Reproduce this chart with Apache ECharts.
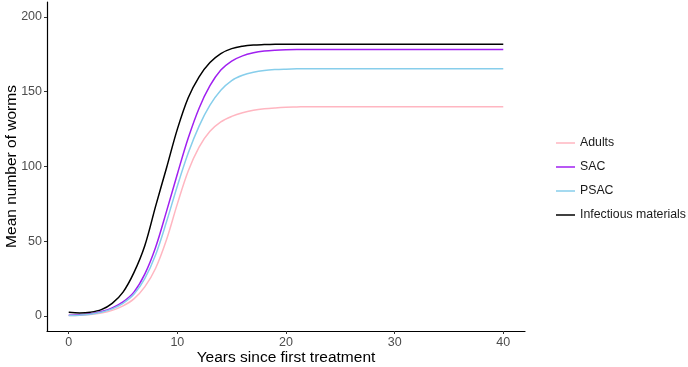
<!DOCTYPE html>
<html>
<head>
<meta charset="utf-8">
<title>Mean number of worms</title>
<script src="https://cdn.jsdelivr.net/npm/echarts@6/dist/echarts.min.js"></script>
<style>
html, body { margin: 0; padding: 0; background: #fff; }
#main { width: 688px; height: 367px; }
</style>
</head>
<body>
<div id="main"></div>
<script>
// years since first treatment
var years = [0, 1, 2, 3, 4, 5, 6, 7, 8, 9, 10, 11, 12, 13, 14, 15, 16, 17, 18, 19, 20,
    21, 22, 23, 24, 25, 26, 27, 28, 29, 30, 31, 32, 33, 34, 35, 36, 37, 38, 39, 40];

// mean worms
var adults = [0.3, 0.5, 1, 2, 3.8, 6.8, 11.5, 19.5, 32, 51, 75, 97, 113, 123.5, 129.8, 133.5, 136, 137.6, 138.6, 139.2, 139.6,
    139.8, 140, 140, 140, 140, 140, 140, 140, 140, 140, 140, 140, 140, 140, 140, 140, 140, 140, 140, 140];
var sac = [0.5, 0.8, 1.5, 3, 5.5, 9.5, 16, 28, 46, 70, 95, 119, 139, 154, 164.5, 170.5, 174, 176, 177.2, 177.8, 178.1,
    178.2, 178.2, 178.2, 178.2, 178.2, 178.2, 178.2, 178.2, 178.2, 178.2, 178.2, 178.2, 178.2, 178.2, 178.2, 178.2, 178.2, 178.2, 178.2, 178.2];
var psac = [0.3, 0.6, 1.2, 2.5, 4.8, 8.5, 14.5, 25, 41, 63, 87, 109, 127, 141, 151, 157.5, 161, 163, 164.2, 164.8, 165.1,
    165.3, 165.4, 165.4, 165.4, 165.4, 165.4, 165.4, 165.4, 165.4, 165.4, 165.4, 165.4, 165.4, 165.4, 165.4, 165.4, 165.4, 165.4, 165.4, 165.4];
var infectious = [2.6, 2.1, 2.6, 4.3, 8.5, 16, 29, 47, 73.5, 99, 125, 146, 160, 169.5, 175.5, 178.8, 180.4, 181.2, 181.5, 181.7, 181.8,
    181.8, 181.8, 181.8, 181.8, 181.8, 181.8, 181.8, 181.8, 181.8, 181.8, 181.8, 181.8, 181.8, 181.8, 181.8, 181.8, 181.8, 181.8, 181.8, 181.8];

var xTicks = [0, 10, 20, 30, 40];
var yTicks = [0, 50, 100, 150, 200];

var names = ['Adults', 'SAC', 'PSAC', 'Infectious materials'];
var colors = ['#FFB6C1', '#A020F0', '#87CEEB', '#000000'];
var values = [adults, sac, psac, infectious];

function pairs(v) {
    return years.map(function (y, i) { return [y, v[i]]; });
}

var font = 'Liberation Sans, Arial, Helvetica, sans-serif';
var myChart = echarts.init(document.getElementById('main'));

var option = {
    animation: false,
    textStyle: { fontFamily: font },
    grid: { left: 47, right: 163, top: 2, bottom: 36, containLabel: false, outerBoundsMode: 'none' },
    legend: {
        orient: 'vertical',
        left: 551,
        top: 131,
        icon: 'rect',
        itemWidth: 19,
        itemHeight: 1.5,
        itemGap: 10,
        data: names,
        textStyle: { fontSize: 12.3, color: '#1a1a1a', lineHeight: 14, fontFamily: font }
    },
    xAxis: {
        type: 'value',
        min: -2,
        max: 42,
        name: 'Years since first treatment',
        nameLocation: 'middle',
        nameGap: 19,
        nameMoveOverlap: false,
        nameTextStyle: { fontSize: 15.5, color: '#000', fontFamily: font, verticalAlign: 'top' },
        axisLine: { show: true, onZero: false, lineStyle: { color: '#000', width: 1.2 } },
        axisTick: { show: true, customValues: xTicks, length: 3, lineStyle: { color: '#333' } },
        axisLabel: { customValues: xTicks, color: '#4d4d4d', fontSize: 12.5, margin: 5, fontFamily: font },
        splitLine: { show: false }
    },
    yAxis: {
        type: 'value',
        min: -10,
        max: 210,
        name: 'Mean number of worms',
        nameLocation: 'middle',
        nameGap: 27,
        nameMoveOverlap: false,
        nameTextStyle: { fontSize: 15.5, color: '#000', fontFamily: font },
        axisLine: { show: true, onZero: false, lineStyle: { color: '#000', width: 1.2 } },
        axisTick: { show: true, customValues: yTicks, length: 3, lineStyle: { color: '#333' } },
        axisLabel: { customValues: yTicks, color: '#4d4d4d', fontSize: 12.5, margin: 5, fontFamily: font },
        splitLine: { show: false }
    },
    series: names.map(function (n, i) {
        return {
            name: n,
            type: 'line',
            data: pairs(values[i]),
            showSymbol: false,
            symbol: 'none',
            smooth: 0.35,
            color: colors[i],
            lineStyle: { color: colors[i], width: 1.5 }
        };
    })
};
myChart.setOption(option);
</script>
</body>
</html>
